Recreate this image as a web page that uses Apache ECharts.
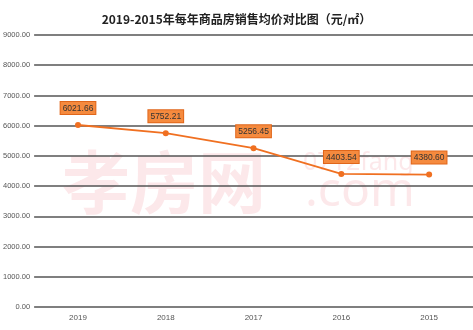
<!DOCTYPE html>
<html><head><meta charset="utf-8">
<script src="https://cdn.jsdelivr.net/npm/echarts@6/dist/echarts.min.js"></script>
<style>html,body{margin:0;padding:0;background:#fff}#c{width:473px;height:330px}</style>
</head><body><div id="c"></div>
<script>
const titleText = '2019-2015年每年商品房销售均价对比图（元/㎡）';
const categories = ['2019', '2018', '2017', '2016', '2015'];
const prices = [6021.66, 5752.21, 5256.45, 4403.54, 4380.60];
const yMin = 0, yMax = 9000, yStep = 1000;

const chart = echarts.init(document.getElementById('c'));
chart.setOption({
  backgroundColor: '#fff',
  animation: false,
  title: {
    text: titleText, left: 'center', top: 8,
    textStyle: { fontSize: 12, fontWeight: 'bold', color: '#222', fontFamily: 'Noto Sans CJK SC' }
  },
  graphic: [
    { type: 'text', left: 62, top: 148, z: 0, silent: true,
      style: { text: '孝房网', fontSize: 68, fontWeight: 'bold', fill: 'rgba(240,150,160,0.22)', fontFamily: 'Noto Sans CJK SC' } },
    { type: 'text', left: 303, top: 150, z: 0, silent: true,
      style: { text: '0712fang', fontSize: 25, fill: 'rgba(240,150,160,0.22)', fontFamily: 'Noto Sans' } },
    { type: 'text', left: 305, top: 168, z: 0, silent: true,
      style: { text: '.com', fontSize: 48, fill: 'rgba(240,150,160,0.22)', fontFamily: 'Noto Sans' } }
  ],
  grid: { left: 34, right: -2, top: 35, bottom: 23, containLabel: false },
  xAxis: {
    type: 'category', data: categories, boundaryGap: true,
    axisLine: { show: false }, axisTick: { show: false },
    axisLabel: { color: '#555', fontSize: 8, margin: 7, fontFamily: 'Liberation Sans' }
  },
  yAxis: {
    type: 'value', min: yMin, max: yMax, interval: yStep,
    axisLine: { show: false }, axisTick: { show: false },
    axisLabel: { color: '#555', fontSize: 7.5, margin: 4, formatter: v => v.toFixed(2), fontFamily: 'Liberation Sans' },
    splitLine: { lineStyle: { color: '#555', width: 1.5 } }
  },
  series: [{
    type: 'line', data: prices, z: 5,
    symbol: 'circle', symbolSize: 6,
    lineStyle: { color: '#F07021', width: 1.8 },
    itemStyle: { color: '#F07021' },
    label: {
      show: true, position: 'top', distance: 8,
      formatter: p => p.value.toFixed(2),
      fontSize: 8.5, color: '#333', fontFamily: 'Liberation Sans',
      backgroundColor: '#F58A3E', borderColor: '#E0661A', borderWidth: 1,
      padding: [2, 2, 1, 2]
    }
  }]
});
</script></body></html>
